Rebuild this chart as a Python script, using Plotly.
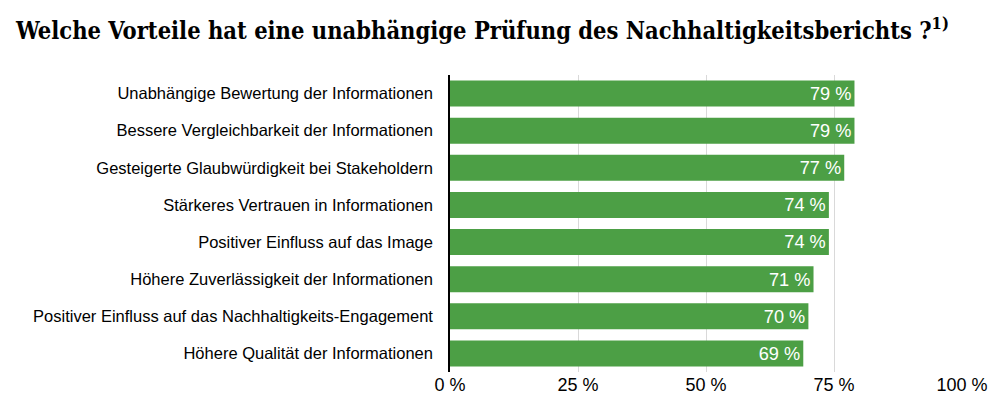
import plotly.graph_objects as go

categories = [
    "Unabhängige Bewertung der Informationen",
    "Bessere Vergleichbarkeit der Informationen",
    "Gesteigerte Glaubwürdigkeit bei Stakeholdern",
    "Stärkeres Vertrauen in Informationen",
    "Positiver Einfluss auf das Image",
    "Höhere Zuverlässigkeit der Informationen",
    "Positiver Einfluss auf das Nachhaltigkeits-Engagement",
    "Höhere Qualität der Informationen",
]
values = [79, 79, 77, 74, 74, 71, 70, 69]
tick_vals = [0, 25, 50, 75, 100]
tick_text = ["0 %", "25 %", "50 %", "75 %", "100 %"]

LABEL_FONT = "Liberation Sans Narrow, Arial Narrow, Liberation Sans, sans-serif"

fig = go.Figure(go.Bar(
    x=values, y=categories, orientation="h",
    marker=dict(color="#4c9f45", line=dict(width=0)),
    text=[f"{v} %" for v in values],
    textposition="inside", insidetextanchor="end",
    textfont=dict(family=LABEL_FONT, size=20, color="white"),
    hoverinfo="skip",
))

fig.update_layout(
    width=1000, height=407,
    margin=dict(l=450, r=38, t=75, b=35, autoexpand=False),
    paper_bgcolor="white", plot_bgcolor="white",
    bargap=0.3,
    showlegend=False,
    title=dict(
        text="<b>Welche Vorteile hat eine unabhängige Prüfung des Nachhaltigkeitsberichts ?<sup>1)</sup></b>",
        x=0.016, xanchor="left", y=0.925, yanchor="middle",
        font=dict(family="DejaVu Serif Condensed, DejaVu Serif, serif", size=23.5, color="black"),
    ),
    xaxis=dict(
        range=[0, 100], tickvals=tick_vals, ticktext=tick_text,
        showgrid=True, gridcolor="#d9d9d9", gridwidth=1,
        zeroline=False, showline=False, ticks="",
        tickfont=dict(family=LABEL_FONT, size=18, color="black"),
        automargin=False, fixedrange=True,
    ),
    yaxis=dict(
        autorange="reversed", showline=True, linecolor="black", linewidth=1.5,
        ticks="", ticklabelstandoff=12,
        tickfont=dict(family=LABEL_FONT, size=16.5, color="black"),
        automargin=False, fixedrange=True,
    ),
)

fig.write_html("out.html", config={"displayModeBar": False},
               post_script="document.body.style.margin='0';")
